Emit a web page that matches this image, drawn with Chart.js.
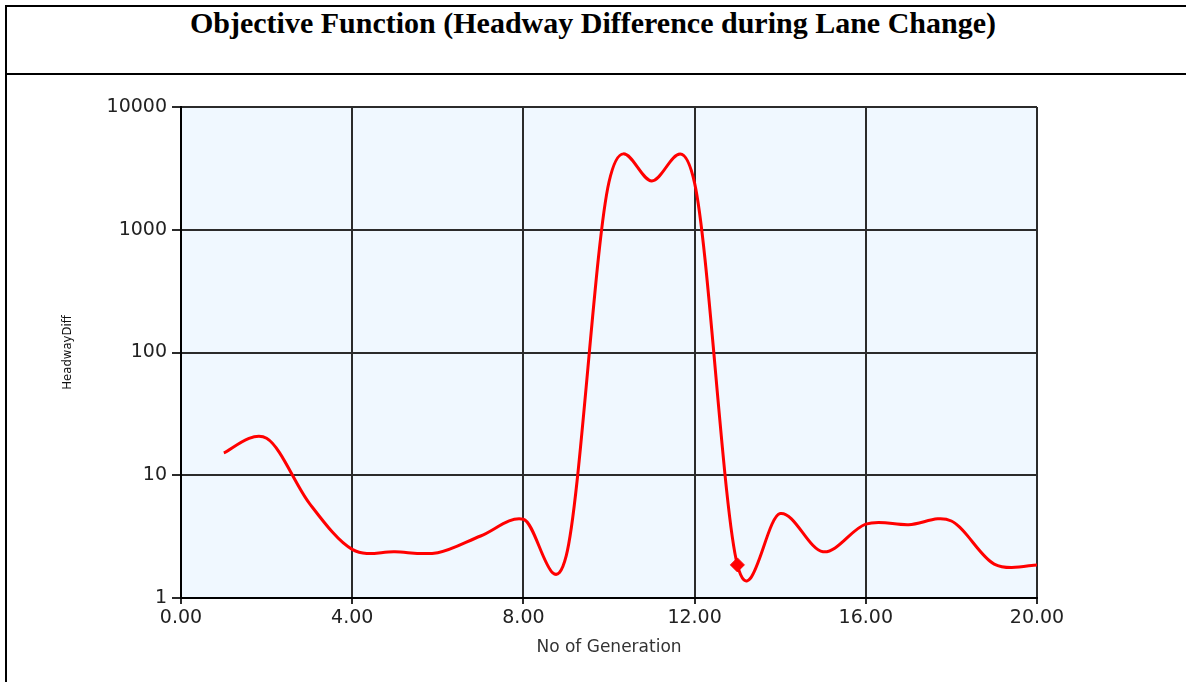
<!DOCTYPE html>
<html><head><meta charset="utf-8">
<script src="https://cdn.jsdelivr.net/npm/chart.js@4.4.1/dist/chart.umd.min.js"></script>
<style>
html,body{margin:0;padding:0;background:#fff;width:1186px;height:682px;overflow:hidden;}
#frame{position:absolute;left:5px;top:5px;width:1200px;height:700px;border-left:2px solid #000;border-top:2px solid #000;box-sizing:border-box;}
#sep{position:absolute;left:5px;top:73px;width:1200px;height:2px;background:#000;}
#title{position:absolute;left:0;top:6px;width:1186px;text-align:center;font:bold 30px/34px 'Liberation Serif','Times New Roman',serif;color:#000;white-space:nowrap;}
#wrap{position:absolute;left:0;top:0;width:1186px;height:682px;}
</style></head><body>
<div id="frame"></div><div id="sep"></div>
<div id="title">Objective Function (Headway Difference during Lane Change)</div>
<div id="wrap"><canvas id="c" width="1186" height="682"></canvas></div>
<script>
const generations = [1, 2, 3, 4, 5, 6, 7, 8, 9, 10, 11, 12, 13, 14, 15, 16, 17, 18, 19, 20];
const headwayDiff = [15.2, 20, 5.9, 2.49, 2.38, 2.34, 3.2, 4.38, 2.2, 2450, 2500, 2400, 1.86, 4.88, 2.38, 4.0, 3.96, 4.24, 1.89, 1.86];
const markedIndex = 12;
const xTicks = [0, 4, 8, 12, 16, 20];
const yTicks = [1, 10, 100, 1000, 10000];
const xTitle = 'No of Generation';
const yTitle = 'HeadwayDiff';
const SPLINE_K = 1 / 6;

const bgPlugin = {
  id: 'bg',
  beforeDraw(chart) {
    const {ctx, chartArea: a} = chart;
    ctx.save();
    ctx.fillStyle = '#F0F8FF';
    ctx.fillRect(a.left, a.top, a.right - a.left, a.bottom - a.top);
    ctx.restore();
  }
};

const cardinalPlugin = {
  id: 'cardinal',
  beforeDatasetDraw(chart, args) {
    const meta = args.meta;
    const line = meta.dataset;
    if (!line) return;
    if (line.updateControlPoints) line.updateControlPoints(chart.chartArea, meta.iAxis || 'x');
    const pts = meta.data;
    const k = SPLINE_K;
    for (let i = 0; i < pts.length; i++) {
      const p = pts[i], a = pts[i - 1] || p, b = pts[i + 1] || p;
      const dx = b.x - a.x, dy = b.y - a.y;
      p.cp1x = p.x - k * dx; p.cp1y = p.y - k * dy;
      p.cp2x = p.x + k * dx; p.cp2y = p.y + k * dy;
    }
    line._pointsUpdated = true;
    line._path = undefined;
  }
};

const tickFont = {family: "'DejaVu Sans', 'Liberation Sans', sans-serif", size: 19};
const gridColor = '#2b2b2b';

new Chart(document.getElementById('c'), {
  type: 'line',
  data: {
    datasets: [{
      data: generations.map((g, i) => ({x: g, y: headwayDiff[i]})),
      borderColor: '#FF0000',
      borderWidth: 3,
      tension: 0.4,
      capBezierPoints: false,
      fill: false,
      pointStyle: 'rectRot',
      pointRadius: c => c.dataIndex === markedIndex ? 7 : 0,
      pointHoverRadius: c => c.dataIndex === markedIndex ? 7 : 0,
      pointBackgroundColor: '#FF0000',
      pointBorderColor: '#FF0000',
      pointBorderWidth: 1
    }]
  },
  options: {
    responsive: false,
    animation: false,
    devicePixelRatio: 1,
    layout: {padding: {left: 0, top: 107, right: 149, bottom: 0}},
    plugins: {legend: {display: false}, tooltip: {enabled: false}},
    scales: {
      x: {
        type: 'linear', min: 0, max: 20,
        afterBuildTicks: s => { s.ticks = xTicks.map(v => ({value: v})); },
        afterFit: s => { s.height = 84; },
        ticks: {font: tickFont, color: '#222', padding: 3, maxRotation: 0, autoSkip: false,
          callback: v => Number(v).toFixed(2)},
        grid: {color: gridColor, lineWidth: 2, tickLength: 6, drawTicks: true},
        border: {color: '#000', width: 2},
        title: {display: true, text: xTitle, color: '#333',
          font: {family: "'DejaVu Sans', 'Liberation Sans', sans-serif", size: 17, lineHeight: 1},
          padding: {top: 0, bottom: 26}}
      },
      y: {
        type: 'logarithmic', min: 1, max: 10000,
        afterBuildTicks: s => { s.ticks = yTicks.map(v => ({value: v})); },
        afterFit: s => { s.width = 181; },
        ticks: {font: tickFont, color: '#222', padding: 5, autoSkip: false,
          callback: v => String(v)},
        grid: {color: gridColor, lineWidth: 2, tickLength: 9, drawTicks: true},
        border: {color: '#000', width: 2},
        title: {display: true, text: yTitle, color: '#111',
          font: {family: "'Liberation Sans Narrow', 'DejaVu Sans Condensed', 'Liberation Sans', sans-serif", size: 13, lineHeight: 1},
          padding: {top: 61, bottom: 0}}
      }
    }
  },
  plugins: [bgPlugin, cardinalPlugin]
});
</script>
</body></html>
